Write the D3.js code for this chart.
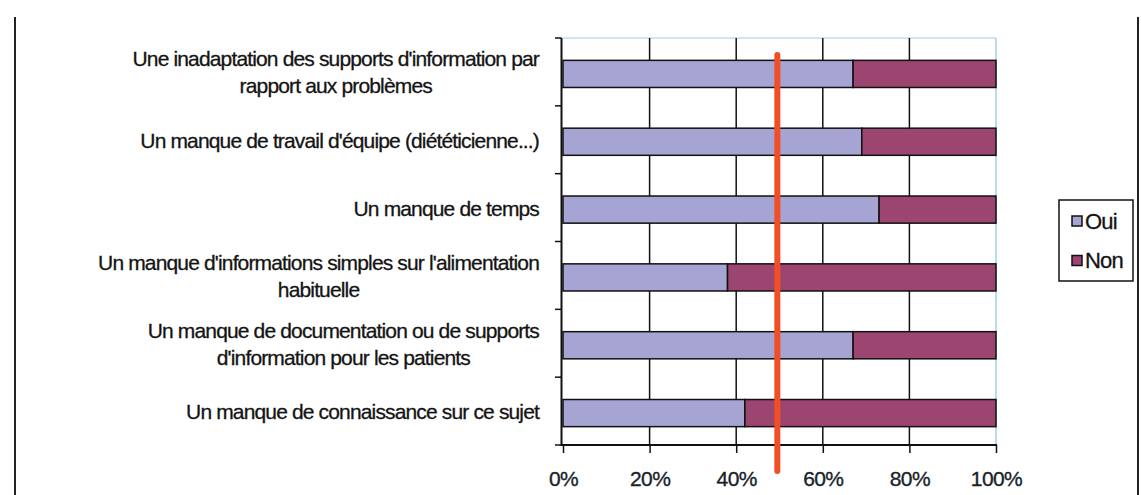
<!DOCTYPE html>
<html>
<head>
<meta charset="utf-8">
<script src="https://cdn.jsdelivr.net/npm/d3@7"></script>
<style>
  html, body { margin: 0; padding: 0; background: #fff; }
  svg { display: block; font-family: "Liberation Sans", Arial, sans-serif; }
</style>
</head>
<body>
<svg id="chart" width="1141" height="495"></svg>
<script>
// ---- data ----
const categories = [
  "Une inadaptation des supports d'information par\nrapport aux problèmes",
  "Un manque de travail d'équipe (diététicienne...)",
  "Un manque de temps",
  "Un manque d'informations simples sur l'alimentation\nhabituelle",
  "Un manque de documentation ou de supports\nd'information pour les patients",
  "Un manque de connaissance sur ce sujet"
];
const oui = [67, 69, 73, 38, 67, 42];
const non = [33, 31, 27, 62, 33, 58];
const seriesNames = ["Oui", "Non"];
const xTicks = [0, 20, 40, 60, 80, 100];
const refLine = 49.5;

// ---- layout ----
const svg = d3.select("#chart");
const colors = { Oui: "#a5a4d2", Non: "#9d4571" };
const x = d3.scaleLinear().domain([0, 100]).range([563, 996]);
const y = d3.scaleBand().domain(d3.range(categories.length)).range([38, 445]).padding(0);
const barH = y.bandwidth() * 0.4;

// page side borders
svg.append("line").attr("x1", 15).attr("x2", 15).attr("y1", 17).attr("y2", 495)
  .attr("stroke", "#222").attr("stroke-width", 2);
svg.append("line").attr("x1", 1138).attr("x2", 1138).attr("y1", 17).attr("y2", 495)
  .attr("stroke", "#222").attr("stroke-width", 2);

// plot area border (top + right, light blue)
svg.append("line").attr("x1", x(0)).attr("x2", x(100)).attr("y1", 38).attr("y2", 38)
  .attr("stroke", "#9fcde4").attr("stroke-width", 1);
svg.append("line").attr("x1", x(100)).attr("x2", x(100)).attr("y1", 38).attr("y2", 445)
  .attr("stroke", "#8cc4e0").attr("stroke-width", 1.2);

// gridlines
svg.append("g").selectAll("line").data(xTicks.filter(t => t > 0 && t < 100)).join("line")
  .attr("x1", d => x(d)).attr("x2", d => x(d)).attr("y1", 38).attr("y2", 445)
  .attr("stroke", "#111").attr("stroke-width", 1.5);

// stacked bars
const rows = categories.map((c, i) => ({ i, Oui: oui[i], Non: non[i] }));
const stack = d3.stack().keys(seriesNames)(rows);
svg.append("g").selectAll("g").data(stack).join("g")
  .attr("fill", d => colors[d.key])
  .selectAll("rect").data(d => d).join("rect")
  .attr("x", d => x(d[0]))
  .attr("width", d => x(d[1]) - x(d[0]))
  .attr("y", d => y(d.data.i) + (y.bandwidth() - barH) / 2 + 2)
  .attr("height", barH)
  .attr("stroke", "#111").attr("stroke-width", 1.5);

// left axis
svg.append("line").attr("x1", x(0) - 1.5).attr("x2", x(0) - 1.5).attr("y1", 38).attr("y2", 445)
  .attr("stroke", "#111").attr("stroke-width", 2);
const bounds = d3.range(categories.length + 1).map(i => i < categories.length ? y(i) : y.range()[1]);
svg.append("g").selectAll("line").data(bounds).join("line")
  .attr("x1", x(0) - 8).attr("x2", x(0) - 1.5).attr("y1", d => d).attr("y2", d => d)
  .attr("stroke", "#111").attr("stroke-width", 1.5);

// bottom axis
const xAxis = d3.axisBottom(x).tickValues(xTicks).tickFormat(d => d + "%").tickSize(8).tickPadding(18);
const gx = svg.append("g").attr("transform", "translate(0,445)").call(xAxis);
gx.select(".domain").attr("stroke", "#111").attr("stroke-width", 2).attr("d", `M${x(0) - 2.5},0H${x(100) + 1}`);
gx.selectAll(".tick line").attr("stroke", "#111").attr("stroke-width", 1.5);
gx.selectAll(".tick text").attr("font-size", 21).attr("fill", "#1a1f2a")
  .attr("letter-spacing", -0.6)
  .attr("stroke", "#1a1f2a").attr("stroke-width", 0.35)
  .attr("font-family", "'Liberation Sans', Arial, sans-serif");

// category labels: centered multi-line block, right-aligned at 538
const lab = svg.append("g").attr("font-size", 21).attr("fill", "#141414")
  .attr("letter-spacing", -0.85).attr("stroke", "#141414").attr("stroke-width", 0.3);
categories.forEach((c, i) => {
  const lines = c.split("\n");
  const g = lab.append("g");
  const cy = y(i) + y.bandwidth() / 2 + 1;
  const lh = 27;
  const texts = lines.map((ln, k) => g.append("text")
    .attr("text-anchor", "middle")
    .attr("y", cy + (k - (lines.length - 1) / 2) * lh + 7)
    .text(ln));
  const maxW = d3.max(texts, t => t.node().getComputedTextLength());
  texts.forEach(t => t.attr("x", 539 - maxW / 2));
});

// reference line
svg.append("line").attr("x1", x(refLine)).attr("x2", x(refLine)).attr("y1", 55).attr("y2", 471)
  .attr("stroke", "#f04e27").attr("stroke-width", 6).attr("stroke-linecap", "round");

// legend
const lg = svg.append("g");
lg.append("rect").attr("x", 1059).attr("y", 200).attr("width", 74).attr("height", 81)
  .attr("fill", "#fff").attr("stroke", "#111").attr("stroke-width", 1.5);
seriesNames.forEach((s, k) => {
  const yy = 216 + k * 39.5;
  lg.append("rect").attr("x", 1072).attr("y", yy).attr("width", 10).attr("height", 10)
    .attr("fill", colors[s]).attr("stroke", "#111").attr("stroke-width", 1.5);
  lg.append("text").attr("x", 1085).attr("y", yy + 12.5).attr("font-size", 22)
    .attr("letter-spacing", -0.8).attr("fill", "#141414")
    .attr("stroke", "#141414").attr("stroke-width", 0.3).text(s);
});
</script>
</body>
</html>
